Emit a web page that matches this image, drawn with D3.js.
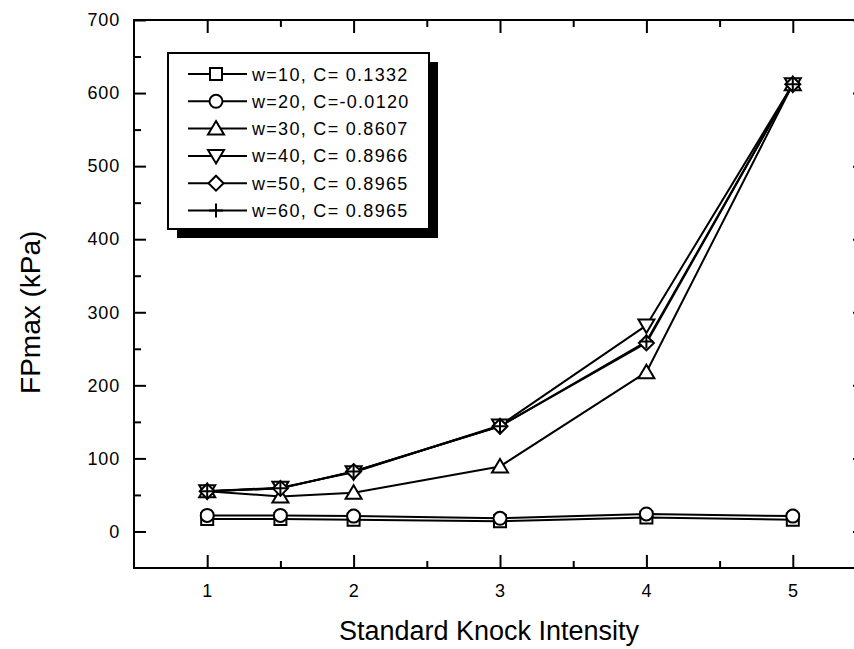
<!DOCTYPE html>
<html>
<head>
<meta charset="utf-8">
<script src="https://cdn.jsdelivr.net/npm/d3@7/dist/d3.min.js"></script>
<style>
  body { margin: 0; background: #fff; }
  text { font-family: "Liberation Sans", Arial, Helvetica, sans-serif; fill: #000; }
</style>
</head>
<body>
<svg id="knock-chart" width="854" height="649"></svg>
<script>

// knock intensity levels (x) and FPmax readings (kPa) for each window width
var intensity = [1, 1.5, 2, 3, 4, 5];
var fp_w10 = [17, 17, 16, 14, 19, 16];
var fp_w20 = [22, 22, 21, 18, 24, 21];
var fp_w30 = [55, 48, 53, 89, 218, 612];
var fp_w40 = [55, 60, 81, 145, 282, 612];
var fp_w50 = [55, 59, 82, 144, 258, 612];
var fp_w60 = [55, 59, 82, 144, 260, 612];

var series_labels = ["w=10, C= 0.1332", "w=20, C=-0.0120", "w=30, C= 0.8607",
                     "w=40, C= 0.8966", "w=50, C= 0.8965", "w=60, C= 0.8965"];
var series_shapes = ["square", "circle", "triangleUp", "triangleDown", "diamond", "plus"];

var x_ticks = [1, 2, 3, 4, 5];
var x_minor = [1.5, 2.5, 3.5, 4.5];
var y_ticks = [0, 100, 200, 300, 400, 500, 600, 700];
var y_minor = [50, 150, 250, 350, 450, 550, 650];

var series = [fp_w10, fp_w20, fp_w30, fp_w40, fp_w50, fp_w60].map(function(vals, i) {
  return {
    label: series_labels[i],
    shape: series_shapes[i],
    points: vals.map(function(v, j) { return { x: intensity[j], y: v }; })
  };
});

///////////////////////
// Chart Size Setup
var plot = { left: 134, top: 20, right: 866, bottom: 568 };

var svg = d3.select("#knock-chart");

var x = d3.scaleLinear().domain([0.5, 5.5]).range([plot.left, plot.right]);
var y = d3.scaleLinear().domain([-50, 700]).range([plot.bottom, plot.top]);

///////////////////////
// Axes (ticks point inward, frame drawn separately)
function styleAxis(g) {
  g.select(".domain").remove();
  g.selectAll(".tick line").attr("stroke", "#000").attr("stroke-width", 2);
  g.selectAll(".tick text")
      .style("font-size", "18px")
      .style("letter-spacing", "0.8px")
      .attr("fill", "#000");
}

svg.append("g")
    .attr("transform", "translate(0," + plot.bottom + ")")
    .call(d3.axisBottom(x).tickValues(x_ticks).tickSize(-13).tickPadding(16).tickFormat(d3.format("d")))
    .call(styleAxis);
svg.append("g")
    .attr("transform", "translate(0," + plot.bottom + ")")
    .call(d3.axisBottom(x).tickValues(x_minor).tickSize(-7).tickFormat(""))
    .call(styleAxis);

svg.append("g")
    .attr("transform", "translate(0," + plot.top + ")")
    .call(d3.axisTop(x).tickValues(x_ticks).tickSize(-13).tickFormat(""))
    .call(styleAxis);
svg.append("g")
    .attr("transform", "translate(0," + plot.top + ")")
    .call(d3.axisTop(x).tickValues(x_minor).tickSize(-7).tickFormat(""))
    .call(styleAxis);

svg.append("g")
    .attr("transform", "translate(" + plot.left + ",0)")
    .call(d3.axisLeft(y).tickValues(y_ticks).tickSize(-12).tickPadding(14).tickFormat(d3.format("d")))
    .call(styleAxis);
svg.append("g")
    .attr("transform", "translate(" + plot.left + ",0)")
    .call(d3.axisLeft(y).tickValues(y_minor).tickSize(-7).tickFormat(""))
    .call(styleAxis);

svg.append("g")
    .attr("transform", "translate(" + plot.right + ",0)")
    .call(d3.axisRight(y).tickValues(y_ticks).tickSize(-13).tickFormat(""))
    .call(styleAxis);
svg.append("g")
    .attr("transform", "translate(" + plot.right + ",0)")
    .call(d3.axisRight(y).tickValues(y_minor).tickSize(-7).tickFormat(""))
    .call(styleAxis);

svg.append("rect")
    .attr("x", plot.left)
    .attr("y", plot.top)
    .attr("width", plot.right - plot.left)
    .attr("height", plot.bottom - plot.top)
    .attr("fill", "none")
    .attr("stroke", "#000")
    .attr("stroke-width", 2);

///////////////////////
// Axis titles
svg.append("text")
    .text("Standard Knock Intensity")
    .attr("text-anchor", "middle")
    .style("font-size", "27px")
    .attr("x", 489)
    .attr("y", 640);

svg.append("text")
    .text("FPmax (kPa)")
    .attr("text-anchor", "middle")
    .style("font-size", "28px")
    .attr("transform", "translate(40," + y(300) + ") rotate(-90)");

///////////////////////
// Marker shapes
function markerPath(shape) {
  var p = d3.path();
  if (shape === "square") {
    p.rect(-6, -6, 12, 12);
  } else if (shape === "circle") {
    p.arc(0, 0, 6.5, 0, 2 * Math.PI);
  } else if (shape === "triangleUp") {
    p.moveTo(0, -7.5); p.lineTo(8, 6); p.lineTo(-8, 6); p.closePath();
  } else if (shape === "triangleDown") {
    p.moveTo(0, 7.5); p.lineTo(8, -6); p.lineTo(-8, -6); p.closePath();
  } else if (shape === "diamond") {
    p.moveTo(0, -7.5); p.lineTo(7.5, 0); p.lineTo(0, 7.5); p.lineTo(-7.5, 0); p.closePath();
  } else if (shape === "plus") {
    p.moveTo(-7, 0); p.lineTo(7, 0); p.moveTo(0, -7); p.lineTo(0, 7);
  }
  return p.toString();
}

var line = d3.line()
    .x(function(d) { return x(d.x); })
    .y(function(d) { return y(d.y); });

///////////////////////
// Lines and nodes
series.forEach(function(s) {
  svg.append("path")
      .datum(s.points)
      .attr("fill", "none")
      .attr("stroke", "#000")
      .attr("stroke-width", 2)
      .attr("stroke-linejoin", "round")
      .attr("d", line);
});

series.forEach(function(s) {
  svg.append("g")
    .selectAll("path")
    .data(s.points)
    .enter().append("path")
      .attr("transform", function(d) { return "translate(" + x(d.x) + "," + y(d.y) + ")"; })
      .attr("d", markerPath(s.shape))
      .attr("fill", s.shape === "plus" ? "none" : "#fff")
      .attr("stroke", "#000")
      .attr("stroke-width", 2);
});

///////////////////////
// Legend with drop shadow
var legend = { x: 168, y: 53, width: 261, height: 176, shadow: 9 };

svg.append("rect")
    .attr("x", legend.x + legend.shadow)
    .attr("y", legend.y + legend.shadow)
    .attr("width", legend.width)
    .attr("height", legend.height)
    .attr("fill", "#000");

svg.append("rect")
    .attr("x", legend.x)
    .attr("y", legend.y)
    .attr("width", legend.width)
    .attr("height", legend.height)
    .attr("fill", "#fff")
    .attr("stroke", "#000")
    .attr("stroke-width", 2);

var entry = svg.append("g")
  .selectAll("g")
  .data(series)
  .enter().append("g")
    .attr("transform", function(d, i) { return "translate(" + (legend.x + 20) + "," + (legend.y + 21 + i * 27.3) + ")"; });

entry.append("line")
    .attr("x1", 0).attr("x2", 59)
    .attr("y1", 0).attr("y2", 0)
    .attr("stroke", "#000")
    .attr("stroke-width", 2);

entry.append("path")
    .attr("transform", "translate(28,0)")
    .attr("d", function(d) { return markerPath(d.shape); })
    .attr("fill", function(d) { return d.shape === "plus" ? "none" : "#fff"; })
    .attr("stroke", "#000")
    .attr("stroke-width", 2);

entry.append("text")
    .text(function(d) { return d.label; })
    .attr("x", 64)
    .attr("y", 6.5)
    .style("font-size", "18px")
    .style("letter-spacing", "1.3px");

</script>
</body>
</html>
